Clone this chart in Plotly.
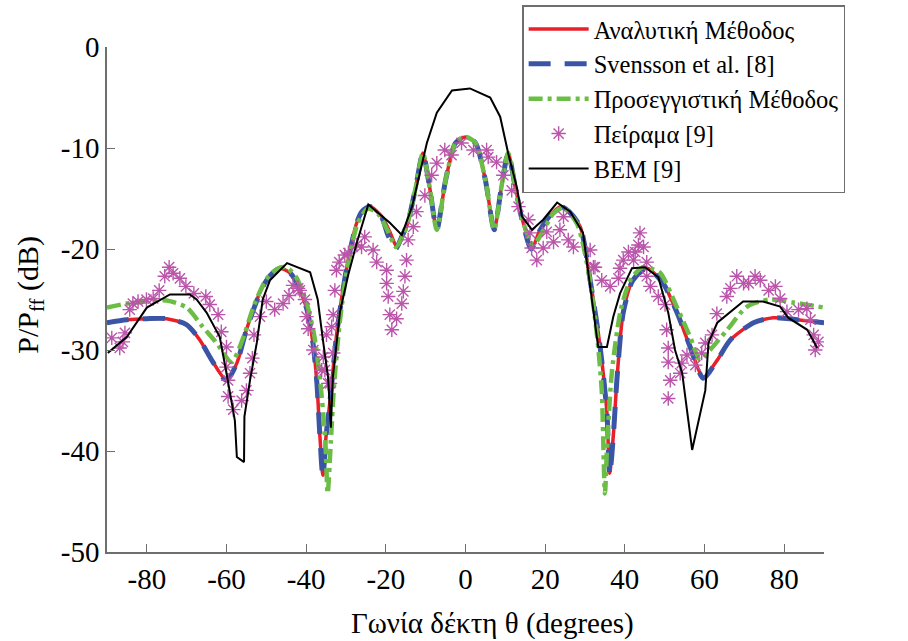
import plotly.graph_objects as go

# Analytic method (red, solid)
theta_an = [-90, -85, -80, -75, -70, -66.7, -63.4, -60, -57.4, -55, -51, -48.5, -46.5, -44, -42.3,
            -39.8, -38.3, -37.3, -36.6, -35.8, -35.0, -34.0, -32.3, -29.8, -27.3, -26, -24, -21, -19,
            -17.2, -15.5, -14.5, -12.5, -10.7, -9, -7.2, -5, -2.5, 0,
            2.5, 5, 7.2, 9, 10.7, 12.5, 14.5, 16.7, 18.5, 21, 24, 26, 28.8, 31.3, 33.8, 35.5, 36.2,
            37.2, 38, 39.6, 42, 45.6, 49.6, 53.1, 56.4, 59.7, 63.2, 66.5, 72.3, 77.3, 83.3, 90]
db_an = [-27.3, -27.0, -26.9, -26.9, -27.5, -29.0, -31.2, -33.0, -31.3, -28.0, -23.8, -22.4, -21.9, -22.4, -23.4,
         -26.0, -29.3, -33.3, -38.2, -42.4, -38.5, -35.0, -28.3, -21.8, -17.4, -16.3, -15.8, -16.8, -18.3,
         -19.8, -18.5, -17.4, -13.9, -10.5, -13.9, -18.1, -13.2, -9.5, -8.9,
         -9.5, -13.2, -18.1, -13.9, -10.5, -13.9, -17.4, -19.9, -18.3, -16.8, -15.8, -16.3, -17.8, -23.1, -29.7, -36.2, -42.2,
         -38.0, -33.0, -26.3, -23.1, -21.9, -23.4, -26.3, -29.7, -32.7, -31.0, -29.0, -27.3, -26.8, -27.0, -27.3]

# Svensson et al. [8] (blue, dashed)
theta_sv = [-90, -85, -80, -75, -70, -66.7, -63.4, -60, -57.4, -55, -51, -48.5, -46.5, -44, -42.3,
            -39.8, -38.3, -37.3, -36.6, -35.8, -35.0, -34.0, -32.3, -29.8, -27.3, -26, -24, -21, -19.5,
            -17.6, -15.8, -14.5, -12.5, -10.7, -9, -7.2, -5, -2.5, 0,
            2.5, 5, 7.2, 9, 10.7, 12.5, 14.5, 16.5, 18.5, 21, 24, 26, 28.8, 31.3, 33.8, 35.5, 36.2,
            37.2, 38, 39.6, 42, 45.6, 49.6, 53.1, 56.4, 59.7, 63.2, 66.5, 72.3, 77.3, 83.3, 90]
db_sv = [-27.3, -27.0, -26.9, -26.9, -27.5, -29.0, -31.2, -33.0, -31.3, -28.0, -23.8, -22.4, -21.9, -22.4, -23.4,
         -26.0, -29.3, -33.3, -38.2, -42.6, -38.5, -35.0, -28.3, -21.8, -17.4, -16.3, -15.8, -16.9, -18.6,
         -20.0, -18.6, -17.4, -13.9, -10.5, -13.9, -18.1, -13.2, -9.5, -8.9,
         -9.5, -13.2, -18.1, -13.9, -10.5, -13.9, -17.6, -20.0, -18.3, -16.8, -15.8, -16.3, -17.8, -23.1, -29.7, -36.2, -42.4,
         -38.0, -33.0, -26.3, -23.1, -21.9, -23.4, -26.3, -29.7, -32.8, -31.0, -29.0, -27.3, -26.8, -27.0, -27.3]

# Approximate method (green, dash-dot)
theta_ap = [-90, -85, -80, -75, -70, -66, -62.5, -58.7, -56, -53, -50, -47, -45, -42.5, -40, -38,
            -36.5, -35.2, -34.6, -33.8, -33, -31.5, -29.5, -27, -24.5, -22, -19.5, -17.5, -15.5, -14.5,
            -12.5, -10.7, -9, -7.2, -5, -2.5, 0,
            2.5, 5, 7.2, 9, 10.7, 12.5, 14.5, 17, 19.5, 22, 24.5, 28, 31, 33, 34.2, 35.0, 35.6, 36.8,
            39, 41.5, 44.5, 47, 49, 53, 56.4, 58.9, 61.4, 65.7, 70.7, 76.5, 82.3, 90]
db_ap = [-25.8, -25.4, -25.2, -25.1, -25.8, -27.7, -29.3, -31.2, -29.0, -25.5, -23.0, -21.9, -21.8, -22.8, -25.2, -28.5,
         -33.0, -39.0, -44.2, -39.0, -33.5, -27.0, -21.5, -17.4, -16.0, -16.5, -18.2, -19.8, -18.5, -17.4,
         -13.9, -10.5, -13.9, -18.1, -13.2, -9.5, -8.9,
         -9.5, -13.2, -18.1, -13.9, -10.5, -13.9, -17.4, -19.6, -18.2, -16.5, -15.9, -17.5, -22.5, -28.5, -34.0, -44.2, -39.0, -32.0,
         -26.0, -23.0, -21.8, -22.0, -22.4, -25.7, -28.7, -31.0, -30.0, -28.0, -25.7, -25.0, -25.3, -25.8]

# Experiment [9] (asterisks)
theta_ex = [-88.8, -86.8, -86.0, -85.5, -84.3, -83.5, -82.2, -80.1, -78.4, -76.9, -75.5, -74.4, -73.4,
            -71.7, -70.2, -68.2, -65.2, -64.2, -62.1, -61.3, -60.0, -60.0, -59.6, -59.6, -58.3, -56.2,
            -55.0, -54.1, -53.5, -53.1, -51.6, -50.0, -47.9, -45.8, -44.3, -43.3, -42.0, -41.6, -40.3,
            -39.9, -39.5, -38.2, -36.1, -35.7, -35.3, -34.9, -34.5, -34.0, -33.6, -33.2, -33.2, -32.8,
            -32.4, -31.7, -30.3, -29.4, -27.3, -26.1, -25.3, -23.2, -22.3, -19.8, -19.8, -19.4, -19.0,
            -18.5, -17.3, -16.0, -15.6, -15.2, -14.8, -14.4, -13.1, -12.3, -10.2, -8.5, -7.2, -5.2, -3.5,
            -1.0, 2.0, 5.3, 5.7, 7.8, 9.5, 11.6, 13.3, 15.8, 16.2, 16.6, 17.9, 19.5, 20.4, 22.1, 23.7,
            24.6, 25.8, 27.1, 31.3, 32.1, 32.5, 34.2, 36.3, 38.4, 38.8, 39.6, 40.9, 42.2, 42.6, 43.4,
            43.8, 44.7, 45.5, 45.5, 46.4, 48.4, 50.1, 50.5, 50.9, 50.9, 51.4, 50.9, 53.9, 54.3, 55.6,
            57.7, 59.3, 60.2, 61.9, 63.1, 65.6, 66.5, 68.1, 69.8, 71.1, 72.7, 74.0, 76.1, 77.8, 79.0,
            80.7, 83.6, 85.7, 86.6, 87.4, 88.6, 87.8]
db_ex = [-28.8, -29.8, -29.2, -28.3, -26.0, -25.4, -25.2, -25.0, -24.9, -24.1, -22.7, -21.8, -22.4,
         -22.9, -23.7, -24.4, -24.7, -25.5, -26.5, -28.2, -29.7, -31.7, -33.0, -34.6, -35.9, -35.0,
         -34.0, -32.3, -30.8, -28.5, -26.7, -25.2, -26.0, -25.4, -24.6, -23.6, -23.9, -24.1, -25.0,
         -26.7, -27.9, -30.0, -32.0, -30.7, -32.0, -28.5, -33.3, -33.3, -27.7, -30.3, -26.5, -24.1,
         -22.1, -21.3, -20.6, -20.4, -19.6, -19.8, -18.8, -20.1, -21.3, -22.1, -23.4, -24.7, -26.5,
         -28.0, -26.9, -25.4, -24.2, -22.7, -21.1, -19.1, -17.8, -16.3, -14.7, -12.7, -11.5, -10.2, -10.7,
         -9.5, -10.2, -10.2, -10.9, -11.4, -12.7, -14.2, -15.8, -17.1, -18.4, -19.9, -21.1, -19.9, -18.3, -19.3, -18.1,
         -16.8, -19.1, -19.8, -20.1, -21.8, -21.8, -23.1, -23.7, -22.9, -21.9, -21.1, -20.3, -21.1, -20.3, -19.6,
         -18.4, -19.8, -21.3, -22.7, -23.7, -24.7, -25.5, -28.0, -29.8, -31.2, -33.0, -34.8, -32.3, -31.3, -30.5,
         -31.5, -30.3, -29.3, -28.5, -26.4, -24.7, -23.9, -22.7, -23.4, -23.4, -22.7, -23.1, -24.1, -23.7, -24.9,
         -26.2, -26.0, -25.9, -27.0, -28.5, -29.2, -30.0]

# BEM [9] (black, solid polyline)
theta_bem = [-89.8, -85, -80, -74.2, -69.2, -67.5, -65, -61.7, -60, -58.7, -57.9, -57.4, -55.6, -55.5,
             -54.1, -52.4, -50.9, -49.1, -44.8, -39, -37.1, -35.8, -34.5, -33.8, -33.3, -31.5, -29.4,
             -27.3, -24.4, -19, -16, -13.4, -11.4, -9.7, -7.2, -3.4, 1.1, 6.2, 8.7, 10.7, 12.9, 14.2,
             16.7, 19.5, 23, 26.3, 29.5, 30.5, 32, 33.3, 35.5, 37.1, 38.8, 41.8, 45.1, 48.4, 50.9, 52.6,
             54.4, 56.9, 60.2, 61, 63.2, 69.7, 74.7, 79, 81, 85.8, 88.3]
db_bem = [-30.3, -28.7, -25.8, -24.5, -24.5, -25.0, -26.3, -28.7, -32.3, -35.0, -37.0, -40.6, -41.1, -36.6,
          -33.0, -29.3, -25.0, -23.1, -21.4, -22.3, -25.0, -29.0, -32.7, -37.7, -32.7, -26.2, -22.5,
          -19.4, -15.6, -17.4, -18.6, -15.8, -12.5, -9.5, -6.5, -4.3, -4.1, -5.0, -6.9, -10.5, -13.9, -16.8,
          -18.1, -17.1, -15.4, -16.3, -18.4, -21.4, -26.3, -29.7, -29.7, -26.7, -24.4, -21.9, -21.8, -22.8, -26.3, -30.0,
          -32.3, -39.9, -34.0, -29.3, -27.3, -25.2, -25.2, -25.7, -26.8, -28.0, -29.8]

x_ticks = [-80, -60, -40, -20, 0, 20, 40, 60, 80]
x_ticktext = ["-80", "-60", "-40", "-20", "0", "20", "40", "60", "80"]
y_ticks = [0, -10, -20, -30, -40, -50]
y_ticktext = ["0", "-10", "-20", "-30", "-40", "-50"]

SERIF = "Liberation Serif"

fig = go.Figure()
fig.add_trace(go.Scatter(x=theta_an, y=db_an, mode="lines", name="Αναλυτική Μέθοδος",
                         line=dict(color="#E8202A", width=3.5, shape="spline", smoothing=0.7)))
fig.add_trace(go.Scatter(x=theta_sv, y=db_sv, mode="lines", name="Svensson et al. [8]",
                         line=dict(color="#3A55A5", width=5, dash="22px,14px", shape="spline", smoothing=0.7)))
fig.add_trace(go.Scatter(x=theta_ap, y=db_ap, mode="lines", name="Προσεγγιστική Μέθοδος",
                         line=dict(color="#6CBD45", width=4.5, dash="14px,5px,4px,5px", shape="spline", smoothing=0.7)))
fig.add_trace(go.Scatter(x=theta_ex, y=db_ex, mode="markers", name="Πείραμα [9]",
                         marker=dict(symbol="asterisk-open", size=12, color="#BA55AA",
                                     line=dict(color="#BA55AA", width=1.4))))
fig.add_trace(go.Scatter(x=theta_bem, y=db_bem, mode="lines", name="BEM [9]",
                         line=dict(color="black", width=2)))

axis_common = dict(showgrid=False, zeroline=False, showline=True, linecolor="#6E6E6E", linewidth=1.5,
                   ticks="inside", ticklen=8, tickwidth=1.2, tickcolor="#6E6E6E", mirror=False,
                   tickfont=dict(family=SERIF, size=29, color="black"))

fig.update_xaxes(range=[-90, 90], tickvals=x_ticks, ticktext=x_ticktext, **axis_common)
fig.update_yaxes(range=[-50, 0], tickvals=y_ticks, ticktext=y_ticktext, **axis_common)

fig.update_layout(
    width=908, height=641,
    margin=dict(l=107, r=84, t=47, b=89, autoexpand=False),
    paper_bgcolor="white", plot_bgcolor="white",
    font=dict(family=SERIF, size=25, color="black"),
    showlegend=True,
    legend=dict(x=0.579, y=1.083, xanchor="left", yanchor="top",
                bgcolor="white", bordercolor="#6E6E6E", borderwidth=1.5,
                font=dict(family=SERIF, size=24.5, color="black"),
                itemwidth=60, tracegroupgap=0),
    annotations=[
        dict(text="Γωνία δέκτη θ (degrees)", xref="paper", yref="paper", x=0.538, y=-0.105,
             xanchor="center", yanchor="top", showarrow=False,
             font=dict(family=SERIF, size=29, color="black")),
        dict(text="P/P<sub>ff</sub> (dB)", xref="paper", yref="paper", x=-0.107, y=0.51,
             xanchor="center", yanchor="middle", textangle=-90, showarrow=False,
             font=dict(family=SERIF, size=30, color="black")),
    ],
)

fig.write_html("out.html")
